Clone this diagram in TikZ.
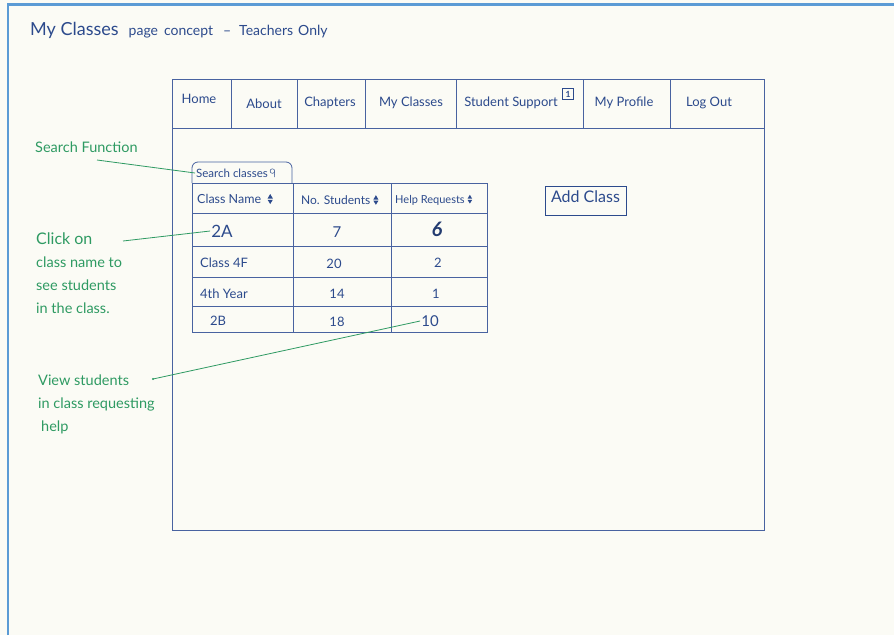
\documentclass[tikz,border=0pt]{standalone}
\usepackage{fontspec}
\setmainfont{Lato}
\usetikzlibrary{calc}

\definecolor{paper}{HTML}{FBFBF5}
\definecolor{frameblue}{HTML}{5B9BD5}
\definecolor{ink}{HTML}{2C4A8C}
\definecolor{inkline}{HTML}{4862A0}
\definecolor{notegreen}{HTML}{2E9A62}

% small up/down sort triangles
\newcommand\sortarrows{\tikz[baseline=0pt,x=1em,y=1em]{%
  \fill (0,0.42)--(0.42,0.42)--(0.21,0.78)--cycle;
  \fill (0,0.32)--(0.42,0.32)--(0.21,-0.02)--cycle;}}
% magnifying glass of the search field
\newcommand\magglass{\tikz[baseline=0pt,x=1em,y=1em,line width=0.5pt]{%
  \draw (0.25,0.55) circle (0.2);
  \draw (0.42,0.45)--(0.45,0.02);}}

\tikzset{
  pen/.style={draw=inkline, line width=0.8pt},
  navtext/.style={text=ink, font=\fontsize{13}{15}\selectfont, inner sep=1pt},
  celltext/.style={text=ink, font=\fontsize{13}{15}\selectfont, inner sep=1pt},
  headtext/.style={text=ink, font=\fontsize{12.5}{14}\selectfont, inner sep=1pt, anchor=west},
  notetext/.style={text=notegreen, font=\fontsize{14.5}{23}\selectfont, align=left, inner sep=0pt},
  noteline/.style={draw=notegreen, line width=0.8pt},
}

\begin{document}
\begin{tikzpicture}[x=1pt,y=-1pt]
  % page background and picture border
  \fill[paper] (0,0) rectangle (894,635);
  \useasboundingbox (0,0) rectangle (894,635);
  \draw[frameblue, line width=2.5pt] (8,635) -- (8,4.5) -- (894,4.5);

  % title
  \node[anchor=base west, text=ink, inner sep=0pt] (title) at (30,35)
    {{\fontsize{18}{20}\selectfont My Classes}\hspace{10pt}{\fontsize{14}{16}\selectfont page\hspace{6pt}concept\hspace{10pt}--\hspace{8pt}Teachers\hspace{5pt}Only}};

  % browser window and navigation bar
  \draw[pen] (172,79) rectangle (764,530);
  \draw[pen] (172,128) -- (764,128);
  \foreach \xx in {231,297,365,456,583,670}
    \draw[pen] (\xx,79) -- (\xx,128);

  \node[navtext] (home)     at (199,99)  {Home};
  \node[navtext] (about)    at (264,104) {About};
  \node[navtext] (chapters) at (330,103) {Chapters};
  \node[navtext] (myclass)  at (411,103) {My Classes};
  \node[navtext] (support)  at (511,103) {Student Support};
  \node[draw=ink, line width=0.6pt, text=ink, inner sep=0pt, minimum size=11pt,
        font=\fontsize{8.5}{9}\selectfont\bfseries] (badge) at (568,94) {1};
  \node[navtext] (profile)  at (624,103) {My Profile};
  \node[navtext] (logout)   at (709,103) {Log Out};

  % search tab and class table
  \draw[pen, rounded corners=6pt] (192,183) -- (192,162) -- (292,162) -- (292,183);
  \node[text=ink, font=\fontsize{11.5}{13}\selectfont, inner sep=1pt, anchor=west] (search)
    at (195,173) {Search classes\,\magglass};

  \draw[pen] (192,183) rectangle (487,332);
  \foreach \yy in {213,246,277,306}
    \draw[pen] (192,\yy) -- (487,\yy);
  \draw[pen] (293,183) -- (293,332);
  \draw[pen] (391,183) -- (391,332);

  \node[headtext] (hname) at (196,199) {Class Name \ \sortarrows};
  \node[headtext, font=\fontsize{12}{14}\selectfont] (hnum) at (300,200) {No. Students \sortarrows};
  \node[headtext, font=\fontsize{11}{13}\selectfont] (hhelp) at (394,200) {Help Requests \sortarrows};

  \node[celltext, font=\fontsize{17}{19}\selectfont] (r1c1) at (222,231) {2A};
  \node[celltext, font=\fontsize{15}{17}\selectfont] (r1c2) at (337,232) {7};
  \node[celltext, font=\fontsize{20}{22}\selectfont\bfseries\itshape, text=ink!80!black] (r1c3) at (437,229) {6};

  \node[celltext, anchor=west] (r2c1) at (199,263) {Class 4F};
  \node[celltext] (r2c2) at (334,264) {20};
  \node[celltext] (r2c3) at (438,263) {2};

  \node[celltext, anchor=west] (r3c1) at (199,294) {4th Year};
  \node[celltext] (r3c2) at (337,294) {14};
  \node[celltext] (r3c3) at (436,294) {1};

  \node[celltext] (r4c1) at (218,321) {2B};
  \node[celltext] (r4c2) at (337,322) {18};
  \node[celltext, font=\fontsize{15}{17}\selectfont] (r4c3) at (430,321) {10};

  % add-class button
  \node[draw=ink, line width=0.9pt, text=ink, font=\fontsize{16}{18}\selectfont,
        minimum width=81pt, text height=11pt, text depth=7pt, inner ysep=5.5pt,
        anchor=north] (addclass) at (585.5,186) {Add Class};

  % annotations
  \node[notetext, anchor=base west] (notesearch) at (35,152) {Search Function};
  \coordinate (searchtail) at (97,160);
  \draw[noteline] (searchtail) -- (search.west);

  \node[notetext, anchor=north west] (noteclick) at (36,233)
    {{\fontsize{16}{23}\selectfont Click on}\\class name to\\see students\\in the class.};
  \coordinate (clicktail) at (123,241);
  \draw[noteline] (clicktail) -- (r1c1.west);

  \node[notetext, anchor=north west] (notehelp) at (38,375)
    {View students\\in class requesting\\\hspace{3pt}help};
  \coordinate (helptail) at (153,379);
  \fill[notegreen] (helptail) circle (1.2pt);
  \draw[noteline] (helptail) -- (r4c3.west);
\end{tikzpicture}
\end{document}
